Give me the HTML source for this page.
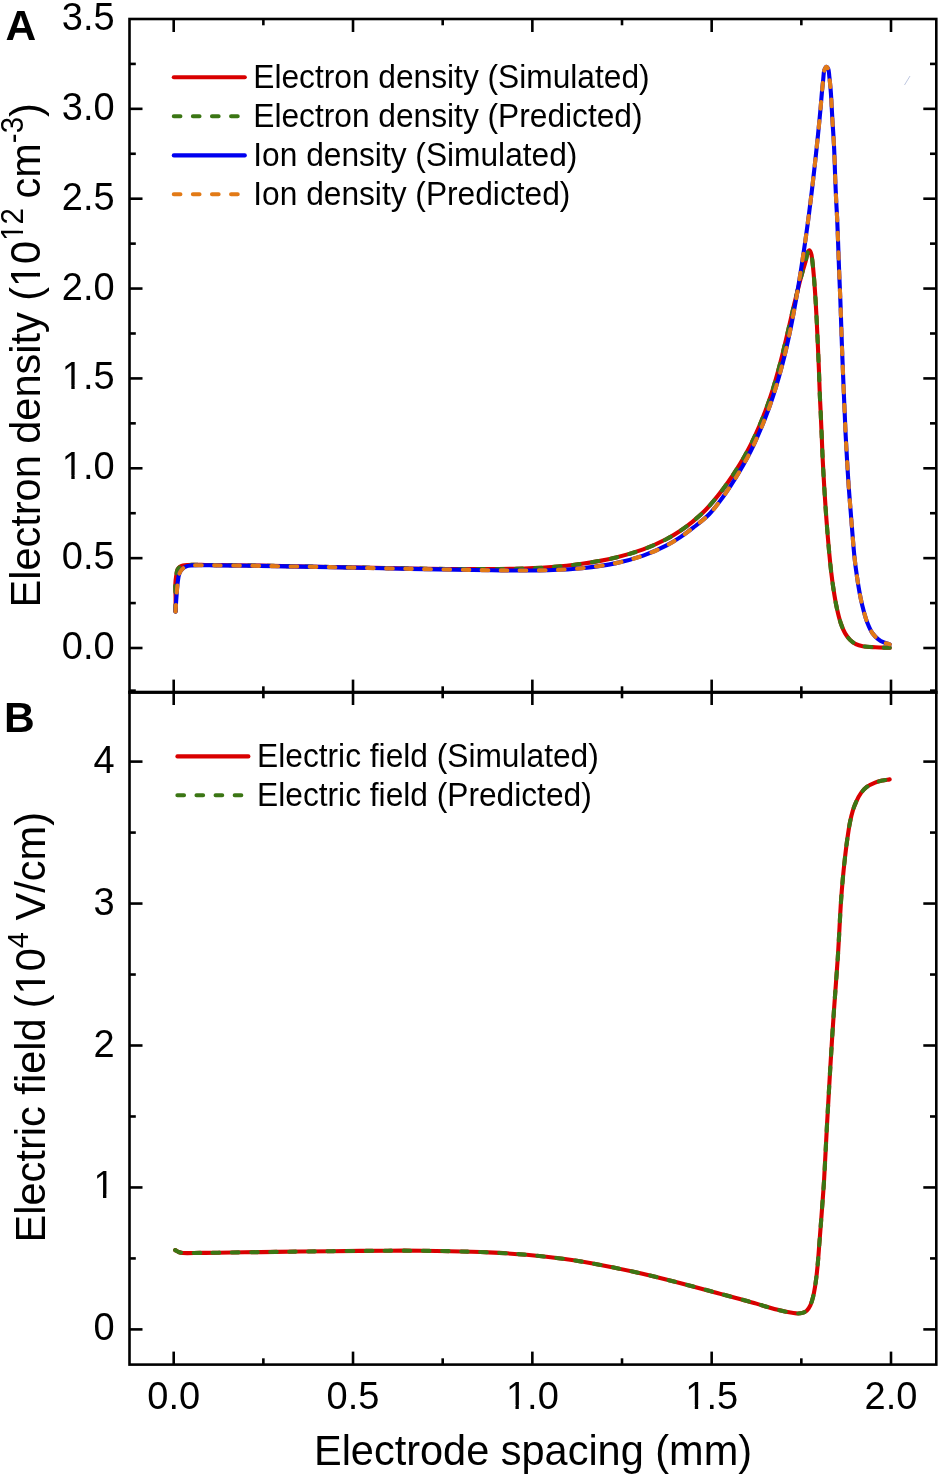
<!DOCTYPE html><html><head><meta charset="utf-8"><title>Electron density and electric field</title><style>
html,body{margin:0;padding:0;background:#fff;}svg{display:block;}
text{font-family:"Liberation Sans",Arial,sans-serif;fill:#000;}
</style></head><body>
<svg width="940" height="1476" viewBox="0 0 940 1476">
<rect x="0" y="0" width="940" height="1476" fill="#fff"/>
<path d="M175.50,611.50 C175.53,606.87 175.64,602.12 175.60,597.60 C175.56,593.30 175.15,588.93 175.30,585.00 C175.44,581.52 175.84,578.01 176.30,575.20 C176.66,573.03 176.88,570.95 177.60,569.50 C178.14,568.42 178.83,567.66 179.70,567.00 C180.61,566.31 181.76,565.84 183.00,565.50 C184.47,565.11 186.19,565.10 188.00,565.00 C190.14,564.88 192.46,564.91 195.00,564.90 C198.04,564.88 201.67,564.90 205.00,564.93 C208.33,564.96 210.47,565.01 215.00,565.07 C224.61,565.20 243.35,565.35 260.00,565.61 C280.77,565.94 305.89,566.50 330.00,566.96 C355.78,567.45 387.91,568.12 410.00,568.46 C425.62,568.71 437.62,568.87 450.00,568.97 C460.72,569.07 469.69,569.14 480.00,569.11 C490.98,569.08 502.66,569.08 514.00,568.77 C525.35,568.46 536.74,568.10 548.08,567.26 C559.42,566.42 570.75,565.38 582.04,563.75 C593.42,562.11 605.45,559.98 616.09,557.42 C625.71,555.11 634.60,552.56 643.21,549.40 C651.40,546.39 659.89,542.54 666.62,539.04 C672.03,536.23 676.32,533.52 680.77,530.52 C684.99,527.68 688.74,524.80 692.71,521.55 C696.92,518.10 701.24,514.42 705.30,510.30 C709.61,505.92 713.89,500.71 717.76,495.90 C721.44,491.35 724.77,486.82 728.02,482.22 C731.20,477.73 734.25,473.12 737.09,468.64 C739.79,464.37 742.70,459.43 744.69,455.98 C746.04,453.62 746.87,452.10 747.98,449.99 C749.21,447.66 750.30,445.57 751.74,442.57 C753.92,438.05 757.16,431.04 759.55,425.44 C761.80,420.18 763.88,414.93 765.75,409.97 C767.45,405.44 768.96,401.08 770.37,396.88 C771.65,393.04 772.68,389.77 773.88,385.78 C775.27,381.17 776.80,375.78 778.17,370.78 C779.52,365.82 780.80,360.86 782.05,355.89 C783.30,350.93 784.48,345.96 785.66,341.00 C786.84,336.03 787.98,331.06 789.13,326.10 C790.29,321.13 791.40,316.24 792.59,311.20 C793.81,306.01 795.15,300.35 796.36,295.41 C797.44,291.02 798.54,286.69 799.49,283.01 C800.26,280.04 800.94,277.51 801.63,275.00 C802.24,272.78 802.78,270.93 803.42,268.71 C804.15,266.19 805.14,263.18 805.78,260.67 C806.33,258.49 806.61,256.22 807.10,254.50 C807.47,253.21 807.81,251.89 808.30,251.20 C808.60,250.78 808.97,250.37 809.30,250.40 C809.67,250.43 810.09,251.07 810.40,251.60 C810.83,252.33 811.13,253.41 811.40,254.50 C811.74,255.85 811.89,257.29 812.14,259.11 C812.49,261.72 812.85,265.37 813.18,268.70 C813.53,272.31 813.88,276.35 814.17,280.00 C814.45,283.44 814.67,286.67 814.90,290.00 C815.13,293.33 815.33,296.02 815.57,300.00 C815.93,305.91 816.39,314.51 816.77,322.00 C817.17,329.83 817.53,337.92 817.89,346.00 C818.26,354.25 818.63,362.67 818.96,371.00 C819.28,379.33 819.55,388.59 819.87,396.00 C820.13,401.92 820.39,406.16 820.66,412.00 C820.99,419.06 821.34,427.44 821.69,435.40 C822.05,443.69 822.35,452.32 822.77,460.80 C823.20,469.29 823.70,477.81 824.22,486.30 C824.73,494.77 825.26,503.23 825.86,511.70 C826.46,520.16 827.19,529.37 827.83,537.10 C828.37,543.59 828.86,549.11 829.43,555.00 C829.98,560.74 830.50,566.20 831.19,571.99 C831.91,578.08 832.76,584.60 833.71,590.68 C834.62,596.52 835.57,602.25 836.77,607.76 C837.91,613.01 839.16,618.49 840.69,623.00 C841.97,626.78 843.31,630.18 845.01,633.12 C846.49,635.70 848.15,637.98 850.05,639.85 C851.80,641.58 853.75,643.02 855.86,644.08 C857.96,645.13 860.01,645.67 862.66,646.18 C866.19,646.87 870.94,646.98 875.30,647.24 C879.97,647.53 884.97,647.61 889.80,647.80" fill="none" stroke="#d90000" stroke-width="4.1" stroke-linecap="round" stroke-linejoin="round"/>
<path d="M175.50,611.50 C175.53,606.87 175.64,602.12 175.60,597.60 C175.56,593.30 175.15,588.93 175.30,585.00 C175.44,581.52 175.84,578.01 176.30,575.20 C176.66,573.03 176.88,570.95 177.60,569.50 C178.14,568.42 178.83,567.66 179.70,567.00 C180.61,566.31 181.76,565.84 183.00,565.50 C184.47,565.11 186.19,565.10 188.00,565.00 C190.14,564.88 192.46,564.91 195.00,564.90 C198.04,564.88 201.67,564.90 205.00,564.93 C208.33,564.96 210.47,565.01 215.00,565.07 C224.61,565.20 243.35,565.35 260.00,565.61 C280.77,565.94 305.89,566.50 330.00,566.96 C355.78,567.45 387.91,568.12 410.00,568.46 C425.62,568.71 437.62,568.87 450.00,568.97 C460.72,569.07 469.69,569.14 480.00,569.11 C490.98,569.08 502.66,569.08 514.00,568.77 C525.35,568.46 536.74,568.10 548.08,567.26 C559.42,566.42 570.75,565.38 582.04,563.75 C593.42,562.11 605.45,559.98 616.09,557.42 C625.71,555.11 634.60,552.56 643.21,549.40 C651.40,546.39 659.89,542.54 666.62,539.04 C672.03,536.23 676.32,533.52 680.77,530.52 C684.99,527.68 688.74,524.80 692.71,521.55 C696.92,518.10 701.24,514.42 705.30,510.30 C709.61,505.92 713.89,500.71 717.76,495.90 C721.44,491.35 724.77,486.82 728.02,482.22 C731.20,477.73 734.25,473.12 737.09,468.64 C739.79,464.37 742.70,459.43 744.69,455.98 C746.04,453.62 746.87,452.10 747.98,449.99 C749.21,447.66 750.30,445.57 751.74,442.57 C753.92,438.05 757.16,431.04 759.55,425.44 C761.80,420.18 763.88,414.93 765.75,409.97 C767.45,405.44 768.96,401.08 770.37,396.88 C771.65,393.04 772.68,389.77 773.88,385.78 C775.27,381.17 776.80,375.78 778.17,370.78 C779.52,365.82 780.80,360.86 782.05,355.89 C783.30,350.93 784.48,345.96 785.66,341.00 C786.84,336.03 787.98,331.06 789.13,326.10 C790.29,321.13 791.40,316.24 792.59,311.20 C793.81,306.01 795.15,300.35 796.36,295.41 C797.44,291.02 798.54,286.69 799.49,283.01 C800.26,280.04 800.94,277.51 801.63,275.00 C802.24,272.78 802.78,270.93 803.42,268.71 C804.15,266.19 805.14,263.18 805.78,260.67 C806.33,258.49 806.61,256.22 807.10,254.50 C807.47,253.21 807.81,251.89 808.30,251.20 C808.60,250.78 808.97,250.37 809.30,250.40 C809.67,250.43 810.09,251.07 810.40,251.60 C810.83,252.33 811.13,253.41 811.40,254.50 C811.74,255.85 811.89,257.29 812.14,259.11 C812.49,261.72 812.85,265.37 813.18,268.70 C813.53,272.31 813.88,276.35 814.17,280.00 C814.45,283.44 814.67,286.67 814.90,290.00 C815.13,293.33 815.33,296.02 815.57,300.00 C815.93,305.91 816.39,314.51 816.77,322.00 C817.17,329.83 817.53,337.92 817.89,346.00 C818.26,354.25 818.63,362.67 818.96,371.00 C819.28,379.33 819.55,388.59 819.87,396.00 C820.13,401.92 820.39,406.16 820.66,412.00 C820.99,419.06 821.34,427.44 821.69,435.40 C822.05,443.69 822.35,452.32 822.77,460.80 C823.20,469.29 823.70,477.81 824.22,486.30 C824.73,494.77 825.26,503.23 825.86,511.70 C826.46,520.16 827.19,529.37 827.83,537.10 C828.37,543.59 828.86,549.11 829.43,555.00 C829.98,560.74 830.50,566.20 831.19,571.99 C831.91,578.08 832.76,584.60 833.71,590.68 C834.62,596.52 835.57,602.25 836.77,607.76 C837.91,613.01 839.16,618.49 840.69,623.00 C841.97,626.78 843.31,630.18 845.01,633.12 C846.49,635.70 848.15,637.98 850.05,639.85 C851.80,641.58 853.75,643.02 855.86,644.08 C857.96,645.13 860.01,645.67 862.66,646.18 C866.19,646.87 870.94,646.98 875.30,647.24 C879.97,647.53 884.97,647.61 889.80,647.80" fill="none" stroke="#3b7614" stroke-width="4.1" stroke-linecap="round" stroke-linejoin="round" stroke-dasharray="6.6 12.5"/>
<path d="M175.50,611.50 C175.80,606.87 176.04,602.39 176.40,597.60 C176.79,592.45 177.17,586.00 177.80,581.60 C178.25,578.46 178.54,575.78 179.40,573.60 C180.07,571.90 180.87,570.59 182.00,569.40 C183.16,568.18 184.71,567.07 186.30,566.40 C187.91,565.72 189.52,565.62 191.60,565.40 C194.52,565.10 198.50,565.20 202.20,565.19 C206.27,565.18 209.44,565.29 215.00,565.36 C225.44,565.49 243.35,565.66 260.00,565.91 C280.77,566.23 305.89,566.71 330.00,567.17 C355.78,567.67 383.33,568.32 410.00,568.83 C436.67,569.34 471.13,569.98 490.00,570.23 C500.34,570.38 505.30,570.46 514.00,570.47 C524.37,570.48 536.74,570.57 548.09,570.20 C559.43,569.82 570.75,569.37 582.05,568.20 C593.42,567.02 605.45,565.38 616.08,563.13 C625.70,561.09 634.59,558.68 643.20,555.63 C651.40,552.73 659.88,548.89 666.62,545.42 C672.03,542.63 676.24,539.95 680.77,536.92 C685.21,533.95 689.14,530.95 693.56,527.45 C698.57,523.48 704.55,518.91 709.17,514.21 C713.54,509.77 717.09,504.92 720.71,500.12 C724.27,495.39 727.59,490.42 730.74,485.63 C733.74,481.07 736.50,476.60 739.21,472.04 C741.87,467.55 744.69,462.48 746.86,458.47 C748.56,455.33 749.89,452.73 751.25,449.99 C752.52,447.44 753.43,445.57 754.80,442.57 C756.86,438.06 759.91,431.13 762.24,425.45 C764.51,419.93 766.77,414.06 768.64,408.97 C770.23,404.65 771.54,400.84 772.85,396.89 C774.10,393.12 775.16,389.77 776.36,385.78 C777.75,381.17 779.30,375.78 780.66,370.78 C782.01,365.82 783.28,360.86 784.50,355.89 C785.71,350.93 786.86,345.96 787.95,340.99 C789.05,336.03 790.09,331.06 791.09,326.09 C792.09,321.13 793.02,316.24 793.96,311.19 C794.92,306.01 795.86,300.71 796.77,295.40 C797.71,289.98 798.60,284.63 799.52,279.00 C800.49,273.02 801.52,266.42 802.43,260.50 C803.26,255.02 804.02,249.89 804.77,244.70 C805.50,239.66 806.19,234.77 806.87,229.80 C807.55,224.83 808.21,219.87 808.85,214.90 C809.49,209.93 810.22,204.14 810.73,200.00 C811.10,197.04 811.31,195.30 811.66,192.40 C812.12,188.52 812.70,183.54 813.24,178.80 C813.84,173.61 814.50,167.68 815.07,162.50 C815.59,157.79 816.05,153.52 816.52,149.00 C817.00,144.42 817.47,139.90 817.95,135.20 C818.45,130.28 818.98,125.00 819.45,120.10 C819.90,115.45 820.33,111.02 820.73,106.50 C821.13,101.99 821.44,97.51 821.85,93.00 C822.27,88.48 822.78,83.49 823.23,79.40 C823.59,76.04 823.51,72.46 824.30,70.20 C824.82,68.72 825.68,66.85 826.40,66.80 C827.02,66.76 827.83,68.02 828.30,69.10 C829.06,70.83 829.01,73.95 829.34,76.71 C829.74,79.99 830.14,83.89 830.45,87.50 C830.77,91.13 831.03,94.78 831.26,98.40 C831.48,102.01 831.62,105.59 831.81,109.20 C832.01,112.82 832.19,116.17 832.42,120.10 C832.70,124.72 833.09,130.28 833.38,135.20 C833.66,139.90 833.94,144.43 834.16,149.00 C834.37,153.53 834.52,157.79 834.69,162.50 C834.87,167.68 835.03,173.61 835.23,178.80 C835.41,183.54 835.60,187.95 835.81,192.40 C836.00,196.68 836.20,200.72 836.42,205.00 C836.65,209.45 836.92,213.71 837.15,218.60 C837.42,224.34 837.65,230.79 837.90,237.30 C838.17,244.41 838.44,252.49 838.70,259.60 C838.95,266.11 839.16,271.83 839.43,278.30 C839.71,285.26 840.07,292.56 840.35,300.00 C840.66,307.90 840.92,316.27 841.20,324.40 C841.48,332.53 841.73,340.67 842.03,348.80 C842.33,356.93 842.67,365.07 843.00,373.20 C843.33,381.33 843.72,390.83 844.02,397.60 C844.23,402.43 844.36,405.13 844.58,410.00 C844.88,416.97 845.25,426.93 845.67,435.40 C846.10,443.86 846.60,452.33 847.10,460.80 C847.60,469.29 848.09,477.81 848.69,486.29 C849.29,494.77 850.01,503.23 850.69,511.70 C851.36,520.17 852.07,529.37 852.72,537.10 C853.26,543.59 853.72,549.53 854.27,554.99 C854.74,559.62 855.18,563.34 855.75,567.79 C856.39,572.67 857.16,578.07 857.96,583.09 C858.75,587.99 859.57,592.92 860.52,597.57 C861.43,601.96 862.36,606.06 863.51,610.27 C864.67,614.53 865.89,619.07 867.45,623.01 C868.87,626.60 870.38,630.21 872.32,633.01 C874.00,635.43 876.04,637.44 878.08,639.06 C879.92,640.52 881.90,641.58 883.89,642.48 C885.81,643.34 887.83,643.76 889.80,644.40" fill="none" stroke="#0000f0" stroke-width="4.1" stroke-linecap="round" stroke-linejoin="round"/>
<path d="M175.50,611.50 C175.80,606.87 176.04,602.39 176.40,597.60 C176.79,592.45 177.17,586.00 177.80,581.60 C178.25,578.46 178.54,575.78 179.40,573.60 C180.07,571.90 180.87,570.59 182.00,569.40 C183.16,568.18 184.71,567.07 186.30,566.40 C187.91,565.72 189.52,565.62 191.60,565.40 C194.52,565.10 198.50,565.20 202.20,565.19 C206.27,565.18 209.44,565.29 215.00,565.36 C225.44,565.49 243.35,565.66 260.00,565.91 C280.77,566.23 305.89,566.71 330.00,567.17 C355.78,567.67 383.33,568.32 410.00,568.83 C436.67,569.34 471.13,569.98 490.00,570.23 C500.34,570.38 505.30,570.46 514.00,570.47 C524.37,570.48 536.74,570.57 548.09,570.20 C559.43,569.82 570.75,569.37 582.05,568.20 C593.42,567.02 605.45,565.38 616.08,563.13 C625.70,561.09 634.59,558.68 643.20,555.63 C651.40,552.73 659.88,548.89 666.62,545.42 C672.03,542.63 676.24,539.95 680.77,536.92 C685.21,533.95 689.14,530.95 693.56,527.45 C698.57,523.48 704.55,518.91 709.17,514.21 C713.54,509.77 717.09,504.92 720.71,500.12 C724.27,495.39 727.59,490.42 730.74,485.63 C733.74,481.07 736.50,476.60 739.21,472.04 C741.87,467.55 744.69,462.48 746.86,458.47 C748.56,455.33 749.89,452.73 751.25,449.99 C752.52,447.44 753.43,445.57 754.80,442.57 C756.86,438.06 759.91,431.13 762.24,425.45 C764.51,419.93 766.77,414.06 768.64,408.97 C770.23,404.65 771.54,400.84 772.85,396.89 C774.10,393.12 775.16,389.77 776.36,385.78 C777.75,381.17 779.30,375.78 780.66,370.78 C782.01,365.82 783.28,360.86 784.50,355.89 C785.71,350.93 786.86,345.96 787.95,340.99 C789.05,336.03 790.09,331.06 791.09,326.09 C792.09,321.13 793.02,316.24 793.96,311.19 C794.92,306.01 795.86,300.71 796.77,295.40 C797.71,289.98 798.60,284.63 799.52,279.00 C800.49,273.02 801.52,266.42 802.43,260.50 C803.26,255.02 804.02,249.89 804.77,244.70 C805.50,239.66 806.19,234.77 806.87,229.80 C807.55,224.83 808.21,219.87 808.85,214.90 C809.49,209.93 810.22,204.14 810.73,200.00 C811.10,197.04 811.31,195.30 811.66,192.40 C812.12,188.52 812.70,183.54 813.24,178.80 C813.84,173.61 814.50,167.68 815.07,162.50 C815.59,157.79 816.05,153.52 816.52,149.00 C817.00,144.42 817.47,139.90 817.95,135.20 C818.45,130.28 818.98,125.00 819.45,120.10 C819.90,115.45 820.33,111.02 820.73,106.50 C821.13,101.99 821.44,97.51 821.85,93.00 C822.27,88.48 822.78,83.49 823.23,79.40 C823.59,76.04 823.51,72.46 824.30,70.20 C824.82,68.72 825.68,66.85 826.40,66.80 C827.02,66.76 827.83,68.02 828.30,69.10 C829.06,70.83 829.01,73.95 829.34,76.71 C829.74,79.99 830.14,83.89 830.45,87.50 C830.77,91.13 831.03,94.78 831.26,98.40 C831.48,102.01 831.62,105.59 831.81,109.20 C832.01,112.82 832.19,116.17 832.42,120.10 C832.70,124.72 833.09,130.28 833.38,135.20 C833.66,139.90 833.94,144.43 834.16,149.00 C834.37,153.53 834.52,157.79 834.69,162.50 C834.87,167.68 835.03,173.61 835.23,178.80 C835.41,183.54 835.60,187.95 835.81,192.40 C836.00,196.68 836.20,200.72 836.42,205.00 C836.65,209.45 836.92,213.71 837.15,218.60 C837.42,224.34 837.65,230.79 837.90,237.30 C838.17,244.41 838.44,252.49 838.70,259.60 C838.95,266.11 839.16,271.83 839.43,278.30 C839.71,285.26 840.07,292.56 840.35,300.00 C840.66,307.90 840.92,316.27 841.20,324.40 C841.48,332.53 841.73,340.67 842.03,348.80 C842.33,356.93 842.67,365.07 843.00,373.20 C843.33,381.33 843.72,390.83 844.02,397.60 C844.23,402.43 844.36,405.13 844.58,410.00 C844.88,416.97 845.25,426.93 845.67,435.40 C846.10,443.86 846.60,452.33 847.10,460.80 C847.60,469.29 848.09,477.81 848.69,486.29 C849.29,494.77 850.01,503.23 850.69,511.70 C851.36,520.17 852.07,529.37 852.72,537.10 C853.26,543.59 853.72,549.53 854.27,554.99 C854.74,559.62 855.18,563.34 855.75,567.79 C856.39,572.67 857.16,578.07 857.96,583.09 C858.75,587.99 859.57,592.92 860.52,597.57 C861.43,601.96 862.36,606.06 863.51,610.27 C864.67,614.53 865.89,619.07 867.45,623.01 C868.87,626.60 870.38,630.21 872.32,633.01 C874.00,635.43 876.04,637.44 878.08,639.06 C879.92,640.52 881.90,641.58 883.89,642.48 C885.81,643.34 887.83,643.76 889.80,644.40" fill="none" stroke="#e27a16" stroke-width="4.1" stroke-linecap="round" stroke-linejoin="round" stroke-dasharray="6.6 12.5"/>
<path d="M175.20,1250.10 C176.33,1250.73 177.36,1251.52 178.60,1252.00 C179.92,1252.51 180.97,1252.79 182.90,1253.00 C186.69,1253.42 194.23,1252.94 200.00,1252.89 C205.92,1252.83 210.72,1252.78 218.00,1252.69 C229.22,1252.55 246.85,1252.29 260.80,1252.09 C274.15,1251.90 285.55,1251.72 300.00,1251.54 C317.88,1251.32 341.55,1251.06 360.00,1250.91 C375.80,1250.78 389.17,1250.60 404.00,1250.65 C419.16,1250.70 435.37,1250.89 450.00,1251.20 C463.35,1251.48 475.53,1251.78 488.29,1252.38 C501.06,1252.98 513.83,1253.67 526.58,1254.78 C539.35,1255.89 552.12,1257.27 564.85,1259.04 C577.64,1260.82 590.41,1263.02 603.16,1265.43 C615.95,1267.85 628.71,1270.59 641.45,1273.51 C654.25,1276.45 667.01,1279.72 679.77,1283.00 C692.56,1286.28 705.34,1289.76 718.10,1293.20 C730.86,1296.64 746.83,1300.91 756.36,1303.65 C762.07,1305.30 765.97,1306.65 770.03,1307.79 C773.27,1308.70 775.87,1309.36 778.81,1310.07 C781.73,1310.78 784.67,1311.48 787.61,1312.04 C790.54,1312.60 793.74,1313.32 796.41,1313.41 C798.63,1313.49 800.72,1313.43 802.52,1312.90 C804.10,1312.43 805.49,1311.77 806.71,1310.68 C808.11,1309.43 809.22,1307.58 810.21,1305.56 C811.42,1303.12 812.29,1299.79 813.06,1296.86 C813.82,1293.97 814.27,1291.32 814.81,1288.09 C815.48,1284.14 816.10,1279.29 816.63,1274.89 C817.15,1270.50 817.53,1266.41 817.94,1261.70 C818.43,1256.25 818.86,1249.97 819.31,1244.10 C819.77,1238.21 820.24,1232.29 820.69,1226.40 C821.14,1220.52 821.53,1215.34 822.02,1208.80 C822.62,1200.59 823.35,1191.86 824.03,1180.99 C824.99,1165.58 825.96,1143.74 826.99,1125.10 C828.02,1106.45 829.09,1087.77 830.21,1069.10 C831.34,1050.43 832.50,1031.77 833.77,1013.11 C835.03,994.46 836.62,975.93 837.83,957.18 C839.06,938.24 840.08,914.48 841.09,900.01 C841.70,891.15 842.20,885.52 842.83,878.60 C843.43,872.08 844.05,865.93 844.76,859.61 C845.47,853.27 846.20,846.93 847.09,840.61 C847.98,834.30 848.98,827.22 850.09,821.74 C850.96,817.45 851.79,813.85 852.89,810.36 C853.85,807.26 854.84,804.61 856.16,801.77 C857.55,798.79 859.21,795.47 861.09,792.91 C862.79,790.61 864.55,788.66 866.78,786.97 C869.17,785.17 872.34,783.66 875.10,782.57 C877.62,781.57 880.14,781.05 882.62,780.52 C885.00,780.00 887.34,779.77 889.70,779.40" fill="none" stroke="#d90000" stroke-width="4.1" stroke-linecap="round" stroke-linejoin="round"/>
<path d="M175.20,1250.10 C176.33,1250.73 177.36,1251.52 178.60,1252.00 C179.92,1252.51 180.97,1252.79 182.90,1253.00 C186.69,1253.42 194.23,1252.94 200.00,1252.89 C205.92,1252.83 210.72,1252.78 218.00,1252.69 C229.22,1252.55 246.85,1252.29 260.80,1252.09 C274.15,1251.90 285.55,1251.72 300.00,1251.54 C317.88,1251.32 341.55,1251.06 360.00,1250.91 C375.80,1250.78 389.17,1250.60 404.00,1250.65 C419.16,1250.70 435.37,1250.89 450.00,1251.20 C463.35,1251.48 475.53,1251.78 488.29,1252.38 C501.06,1252.98 513.83,1253.67 526.58,1254.78 C539.35,1255.89 552.12,1257.27 564.85,1259.04 C577.64,1260.82 590.41,1263.02 603.16,1265.43 C615.95,1267.85 628.71,1270.59 641.45,1273.51 C654.25,1276.45 667.01,1279.72 679.77,1283.00 C692.56,1286.28 705.34,1289.76 718.10,1293.20 C730.86,1296.64 746.83,1300.91 756.36,1303.65 C762.07,1305.30 765.97,1306.65 770.03,1307.79 C773.27,1308.70 775.87,1309.36 778.81,1310.07 C781.73,1310.78 784.67,1311.48 787.61,1312.04 C790.54,1312.60 793.74,1313.32 796.41,1313.41 C798.63,1313.49 800.72,1313.43 802.52,1312.90 C804.10,1312.43 805.49,1311.77 806.71,1310.68 C808.11,1309.43 809.22,1307.58 810.21,1305.56 C811.42,1303.12 812.29,1299.79 813.06,1296.86 C813.82,1293.97 814.27,1291.32 814.81,1288.09 C815.48,1284.14 816.10,1279.29 816.63,1274.89 C817.15,1270.50 817.53,1266.41 817.94,1261.70 C818.43,1256.25 818.86,1249.97 819.31,1244.10 C819.77,1238.21 820.24,1232.29 820.69,1226.40 C821.14,1220.52 821.53,1215.34 822.02,1208.80 C822.62,1200.59 823.35,1191.86 824.03,1180.99 C824.99,1165.58 825.96,1143.74 826.99,1125.10 C828.02,1106.45 829.09,1087.77 830.21,1069.10 C831.34,1050.43 832.50,1031.77 833.77,1013.11 C835.03,994.46 836.62,975.93 837.83,957.18 C839.06,938.24 840.08,914.48 841.09,900.01 C841.70,891.15 842.20,885.52 842.83,878.60 C843.43,872.08 844.05,865.93 844.76,859.61 C845.47,853.27 846.20,846.93 847.09,840.61 C847.98,834.30 848.98,827.22 850.09,821.74 C850.96,817.45 851.79,813.85 852.89,810.36 C853.85,807.26 854.84,804.61 856.16,801.77 C857.55,798.79 859.21,795.47 861.09,792.91 C862.79,790.61 864.55,788.66 866.78,786.97 C869.17,785.17 872.34,783.66 875.10,782.57 C877.62,781.57 880.14,781.05 882.62,780.52 C885.00,780.00 887.34,779.77 889.70,779.40" fill="none" stroke="#3b7614" stroke-width="4.1" stroke-linecap="round" stroke-linejoin="round" stroke-dasharray="6.6 12.5"/>
<line x1="904.5" y1="85" x2="910" y2="76" stroke="#8c9ac8" stroke-width="0.8" opacity="0.7"/>
<g stroke="#000" stroke-width="2.6" stroke-linecap="butt"><line x1="173.70" y1="19.00" x2="173.70" y2="32.00"/><line x1="173.70" y1="692.60" x2="173.70" y2="679.60"/><line x1="173.70" y1="692.00" x2="173.70" y2="705.00"/><line x1="173.70" y1="1364.60" x2="173.70" y2="1351.60"/><line x1="263.36" y1="19.00" x2="263.36" y2="25.30"/><line x1="263.36" y1="692.60" x2="263.36" y2="686.30"/><line x1="263.36" y1="692.00" x2="263.36" y2="698.30"/><line x1="263.36" y1="1364.60" x2="263.36" y2="1358.30"/><line x1="353.02" y1="19.00" x2="353.02" y2="32.00"/><line x1="353.02" y1="692.60" x2="353.02" y2="679.60"/><line x1="353.02" y1="692.00" x2="353.02" y2="705.00"/><line x1="353.02" y1="1364.60" x2="353.02" y2="1351.60"/><line x1="442.69" y1="19.00" x2="442.69" y2="25.30"/><line x1="442.69" y1="692.60" x2="442.69" y2="686.30"/><line x1="442.69" y1="692.00" x2="442.69" y2="698.30"/><line x1="442.69" y1="1364.60" x2="442.69" y2="1358.30"/><line x1="532.35" y1="19.00" x2="532.35" y2="32.00"/><line x1="532.35" y1="692.60" x2="532.35" y2="679.60"/><line x1="532.35" y1="692.00" x2="532.35" y2="705.00"/><line x1="532.35" y1="1364.60" x2="532.35" y2="1351.60"/><line x1="622.01" y1="19.00" x2="622.01" y2="25.30"/><line x1="622.01" y1="692.60" x2="622.01" y2="686.30"/><line x1="622.01" y1="692.00" x2="622.01" y2="698.30"/><line x1="622.01" y1="1364.60" x2="622.01" y2="1358.30"/><line x1="711.67" y1="19.00" x2="711.67" y2="32.00"/><line x1="711.67" y1="692.60" x2="711.67" y2="679.60"/><line x1="711.67" y1="692.00" x2="711.67" y2="705.00"/><line x1="711.67" y1="1364.60" x2="711.67" y2="1351.60"/><line x1="801.34" y1="19.00" x2="801.34" y2="25.30"/><line x1="801.34" y1="692.60" x2="801.34" y2="686.30"/><line x1="801.34" y1="692.00" x2="801.34" y2="698.30"/><line x1="801.34" y1="1364.60" x2="801.34" y2="1358.30"/><line x1="891.00" y1="19.00" x2="891.00" y2="32.00"/><line x1="891.00" y1="692.60" x2="891.00" y2="679.60"/><line x1="891.00" y1="692.00" x2="891.00" y2="705.00"/><line x1="891.00" y1="1364.60" x2="891.00" y2="1351.60"/><line x1="129.50" y1="648.00" x2="142.50" y2="648.00"/><line x1="936.30" y1="648.00" x2="923.30" y2="648.00"/><line x1="129.50" y1="603.07" x2="135.80" y2="603.07"/><line x1="936.30" y1="603.07" x2="930.00" y2="603.07"/><line x1="129.50" y1="558.14" x2="142.50" y2="558.14"/><line x1="936.30" y1="558.14" x2="923.30" y2="558.14"/><line x1="129.50" y1="513.21" x2="135.80" y2="513.21"/><line x1="936.30" y1="513.21" x2="930.00" y2="513.21"/><line x1="129.50" y1="468.28" x2="142.50" y2="468.28"/><line x1="936.30" y1="468.28" x2="923.30" y2="468.28"/><line x1="129.50" y1="423.35" x2="135.80" y2="423.35"/><line x1="936.30" y1="423.35" x2="930.00" y2="423.35"/><line x1="129.50" y1="378.42" x2="142.50" y2="378.42"/><line x1="936.30" y1="378.42" x2="923.30" y2="378.42"/><line x1="129.50" y1="333.49" x2="135.80" y2="333.49"/><line x1="936.30" y1="333.49" x2="930.00" y2="333.49"/><line x1="129.50" y1="288.56" x2="142.50" y2="288.56"/><line x1="936.30" y1="288.56" x2="923.30" y2="288.56"/><line x1="129.50" y1="243.63" x2="135.80" y2="243.63"/><line x1="936.30" y1="243.63" x2="930.00" y2="243.63"/><line x1="129.50" y1="198.70" x2="142.50" y2="198.70"/><line x1="936.30" y1="198.70" x2="923.30" y2="198.70"/><line x1="129.50" y1="153.77" x2="135.80" y2="153.77"/><line x1="936.30" y1="153.77" x2="930.00" y2="153.77"/><line x1="129.50" y1="108.84" x2="142.50" y2="108.84"/><line x1="936.30" y1="108.84" x2="923.30" y2="108.84"/><line x1="129.50" y1="63.91" x2="135.80" y2="63.91"/><line x1="936.30" y1="63.91" x2="930.00" y2="63.91"/><line x1="129.50" y1="1329.40" x2="142.50" y2="1329.40"/><line x1="936.30" y1="1329.40" x2="923.30" y2="1329.40"/><line x1="129.50" y1="1258.43" x2="135.80" y2="1258.43"/><line x1="936.30" y1="1258.43" x2="930.00" y2="1258.43"/><line x1="129.50" y1="1187.45" x2="142.50" y2="1187.45"/><line x1="936.30" y1="1187.45" x2="923.30" y2="1187.45"/><line x1="129.50" y1="1116.48" x2="135.80" y2="1116.48"/><line x1="936.30" y1="1116.48" x2="930.00" y2="1116.48"/><line x1="129.50" y1="1045.50" x2="142.50" y2="1045.50"/><line x1="936.30" y1="1045.50" x2="923.30" y2="1045.50"/><line x1="129.50" y1="974.53" x2="135.80" y2="974.53"/><line x1="936.30" y1="974.53" x2="930.00" y2="974.53"/><line x1="129.50" y1="903.55" x2="142.50" y2="903.55"/><line x1="936.30" y1="903.55" x2="923.30" y2="903.55"/><line x1="129.50" y1="832.58" x2="135.80" y2="832.58"/><line x1="936.30" y1="832.58" x2="930.00" y2="832.58"/><line x1="129.50" y1="761.60" x2="142.50" y2="761.60"/><line x1="936.30" y1="761.60" x2="923.30" y2="761.60"/><line x1="129.50" y1="690.63" x2="135.80" y2="690.63"/><line x1="936.30" y1="690.63" x2="930.00" y2="690.63"/></g>
<rect x="129.50" y="19.00" width="806.80" height="673.60" fill="none" stroke="#000" stroke-width="2.6"/>
<rect x="129.50" y="692.00" width="806.80" height="672.60" fill="none" stroke="#000" stroke-width="2.6"/>
<text transform="translate(114.60,659.00) scale(1,1.03)" font-size="38" text-anchor="end">0.0</text>
<text transform="translate(114.60,569.14) scale(1,1.03)" font-size="38" text-anchor="end">0.5</text>
<text transform="translate(114.60,479.28) scale(1,1.03)" font-size="38" text-anchor="end">1.0</text>
<text transform="translate(114.60,389.42) scale(1,1.03)" font-size="38" text-anchor="end">1.5</text>
<text transform="translate(114.60,299.56) scale(1,1.03)" font-size="38" text-anchor="end">2.0</text>
<text transform="translate(114.60,209.70) scale(1,1.03)" font-size="38" text-anchor="end">2.5</text>
<text transform="translate(114.60,119.84) scale(1,1.03)" font-size="38" text-anchor="end">3.0</text>
<text transform="translate(114.60,29.98) scale(1,1.03)" font-size="38" text-anchor="end">3.5</text>
<text transform="translate(114.60,1340.40) scale(1,1.03)" font-size="38" text-anchor="end">0</text>
<text transform="translate(114.60,1198.45) scale(1,1.03)" font-size="38" text-anchor="end">1</text>
<text transform="translate(114.60,1056.50) scale(1,1.03)" font-size="38" text-anchor="end">2</text>
<text transform="translate(114.60,914.55) scale(1,1.03)" font-size="38" text-anchor="end">3</text>
<text transform="translate(114.60,772.60) scale(1,1.03)" font-size="38" text-anchor="end">4</text>
<text transform="translate(173.70,1409.00) scale(1,1.03)" font-size="38" text-anchor="middle">0.0</text>
<text transform="translate(353.02,1409.00) scale(1,1.03)" font-size="38" text-anchor="middle">0.5</text>
<text transform="translate(532.35,1409.00) scale(1,1.03)" font-size="38" text-anchor="middle">1.0</text>
<text transform="translate(711.67,1409.00) scale(1,1.03)" font-size="38" text-anchor="middle">1.5</text>
<text transform="translate(891.00,1409.00) scale(1,1.03)" font-size="38" text-anchor="middle">2.0</text>
<text transform="translate(533.00,1464.50) scale(1,1.04)" font-size="41.5" text-anchor="middle">Electrode spacing (mm)</text>
<text transform="translate(40.30,355.30) rotate(-90) scale(1,1.04)" font-size="41.5" text-anchor="middle">Electron density (10<tspan font-size="29.5" dy="-17">12</tspan><tspan dy="17" dx="-2"> cm</tspan><tspan font-size="29.5" dy="-17">-3</tspan><tspan dy="17">)</tspan></text>
<text transform="translate(45.30,1242.60) rotate(-90) scale(1,1.04)" font-size="41.6">Electric field <tspan dx="-1.5">(10</tspan><tspan font-size="29" dy="-16.7">4</tspan><tspan dy="16.7"> V/cm)</tspan></text>
<text transform="translate(5.50,40.00) scale(1,1.0)" font-size="42.5" font-weight="bold">A</text>
<text transform="translate(4.00,732.40) scale(1,1.0)" font-size="42.5" font-weight="bold">B</text>
<line x1="173.8" y1="77.3" x2="244.8" y2="77.3" stroke="#d90000" stroke-width="4.1" stroke-linecap="round"/>
<text transform="translate(253.30,88.30) scale(1,1.04)" font-size="31.7">Electron density (Simulated)</text>
<line x1="173.8" y1="116.2" x2="244.8" y2="116.2" stroke="#3b7614" stroke-width="4.1" stroke-linecap="round" stroke-dasharray="6.6 12.5"/>
<text transform="translate(253.30,127.20) scale(1,1.04)" font-size="31.7">Electron density (Predicted)</text>
<line x1="173.8" y1="155.4" x2="244.8" y2="155.4" stroke="#0000f0" stroke-width="4.1" stroke-linecap="round"/>
<text transform="translate(253.30,166.40) scale(1,1.04)" font-size="31.7">Ion density (Simulated)</text>
<line x1="173.8" y1="194.3" x2="244.8" y2="194.3" stroke="#e27a16" stroke-width="4.1" stroke-linecap="round" stroke-dasharray="6.6 12.5"/>
<text transform="translate(253.30,205.30) scale(1,1.04)" font-size="31.7">Ion density (Predicted)</text>
<line x1="177.4" y1="756.4" x2="248.4" y2="756.4" stroke="#d90000" stroke-width="4.1" stroke-linecap="round"/>
<text transform="translate(257.10,767.40) scale(1,1.04)" font-size="31.7">Electric field (Simulated)</text>
<line x1="177.4" y1="795.2" x2="248.4" y2="795.2" stroke="#3b7614" stroke-width="4.1" stroke-linecap="round" stroke-dasharray="6.6 12.5"/>
<text transform="translate(257.10,806.20) scale(1,1.04)" font-size="31.7">Electric field (Predicted)</text>
<g fill="#fff"><g transform="translate(114.60,479.28) scale(1,1.03)"><rect x="-52.81" y="-3.80" width="9.54" height="4.75"/><rect x="-39.93" y="-3.80" width="7.60" height="4.75"/></g><g transform="translate(114.60,389.42) scale(1,1.03)"><rect x="-52.81" y="-3.80" width="9.54" height="4.75"/><rect x="-39.93" y="-3.80" width="7.60" height="4.75"/></g><g transform="translate(114.60,1198.45) scale(1,1.03)"><rect x="-21.13" y="-3.80" width="9.54" height="4.75"/><rect x="-8.25" y="-3.80" width="7.60" height="4.75"/></g><g transform="translate(532.35,1409.00) scale(1,1.03)"><rect x="-26.41" y="-3.80" width="9.54" height="4.75"/><rect x="-13.52" y="-3.80" width="7.60" height="4.75"/></g><g transform="translate(711.67,1409.00) scale(1,1.03)"><rect x="-26.41" y="-3.80" width="9.54" height="4.75"/><rect x="-13.52" y="-3.80" width="7.60" height="4.75"/></g><g transform="translate(40.30,355.30) rotate(-90) scale(1,1.04)"><rect x="68.34" y="-4.15" width="10.42" height="5.19"/><rect x="82.40" y="-4.15" width="8.30" height="5.19"/></g><g transform="translate(40.30,355.30) rotate(-90) scale(1,1.04)"><rect x="114.50" y="-19.95" width="7.40" height="3.69"/><rect x="124.50" y="-19.95" width="5.90" height="3.69"/></g><g transform="translate(45.30,1242.60) rotate(-90) scale(1,1.04)"><rect x="248.15" y="-4.16" width="10.44" height="5.20"/><rect x="262.25" y="-4.16" width="8.32" height="5.20"/></g></g>
</svg></body></html>
